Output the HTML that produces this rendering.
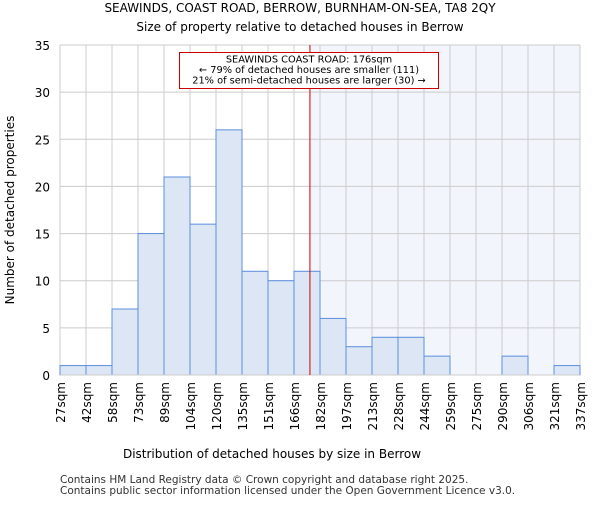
<!DOCTYPE html>
<html><head><meta charset="utf-8"><style>body{margin:0;background:#fff}svg{font-family:"DejaVu Sans","Liberation Sans",sans-serif}</style></head>
<body>
<svg id="c" width="600" height="500" xmlns="http://www.w3.org/2000/svg">
<text x="300" y="12" text-anchor="middle" font-size="12">SEAWINDS, COAST ROAD, BERROW, BURNHAM-ON-SEA, TA8 2QY</text>
<text x="300" y="31" text-anchor="middle" font-size="12">Size of property relative to detached houses in Berrow</text>
<g id="plot"></g>
<text x="272" y="458" text-anchor="middle" font-size="12">Distribution of detached houses by size in Berrow</text>
<text x="14" y="210" transform="rotate(-90 14 210)" text-anchor="middle" font-size="12">Number of detached properties</text>
<text x="60" y="483" font-size="10.5" fill="#333">Contains HM Land Registry data © Crown copyright and database right 2025.</text>
<text x="60" y="494" font-size="10.5" fill="#333">Contains public sector information licensed under the Open Government Licence v3.0.</text>
</svg>
<script>
const binEdges=[27,42,58,73,89,104,120,135,151,166,182,197,213,228,244,259,275,290,306,321,337];
const counts=[1,1,7,15,21,16,26,11,10,11,6,3,4,4,2,0,0,2,0,1];
const yTicks=[0,5,10,15,20,25,30,35];
const propertySize=176;
const NS="http://www.w3.org/2000/svg";
const L=60,R=580,T=45,B=375,yMax=35;
const g=document.getElementById('plot');
const xi=i=>L+(R-L)*i/(binEdges.length-1);
const xv=v=>L+(R-L)*(v-binEdges[0])/(binEdges[binEdges.length-1]-binEdges[0]);
const y=v=>B-(B-T)*v/yMax;
function mk(t,a){const e=document.createElementNS(NS,t);for(const k in a)e.setAttribute(k,a[k]);g.appendChild(e);return e;}
const px=xv(propertySize);
let e=mk('rect',{x:px,y:T,width:R-px,height:B-T,fill:'#f2f5fc'});


binEdges.forEach((b,i)=>{const l=mk('line',{x1:xi(i),x2:xi(i),y1:T,y2:B,stroke:'#ccc'});

});
yTicks.forEach(t=>{const l=mk('line',{x1:L,x2:R,y1:y(t),y2:y(t),stroke:'#ccc'});


const tx=mk('text',{x:L-10,y:y(t)+5,'text-anchor':'end','font-size':'12'});tx.textContent=t;

});
counts.forEach((c,i)=>{if(c<=0)return;const r=mk('rect',{x:xi(i),y:y(c),width:xi(i+1)-xi(i),height:B-y(c),fill:'#dce6f4',stroke:'#5b8ee0','stroke-width':1});

});
binEdges.forEach((b,i)=>{const lx=xi(i)+5,ly=382;const tx=mk('text',{x:lx,y:ly,transform:'rotate(-90 '+lx+' '+ly+')','text-anchor':'end','font-size':'12'});tx.textContent=b+'sqm';

});
const ax=mk('line',{x1:L,x2:R,y1:B,y2:B,stroke:'#ccc'});


const ml=mk('line',{x1:px,x2:px,y1:T,y2:B,stroke:'#cc0000','stroke-width':1});


const bx=mk('rect',{x:179.5,y:52.5,width:259,height:36,fill:'#fff',stroke:'#cc0000'});


['SEAWINDS COAST ROAD: 176sqm','← 79% of detached houses are smaller (111)','21% of semi-detached houses are larger (30) →'].forEach((s,i)=>{const tx=mk('text',{x:309,y:62.5+i*10.5,'text-anchor':'middle','font-size':'9.8'});tx.textContent=s;

});
</script>
</body></html>
